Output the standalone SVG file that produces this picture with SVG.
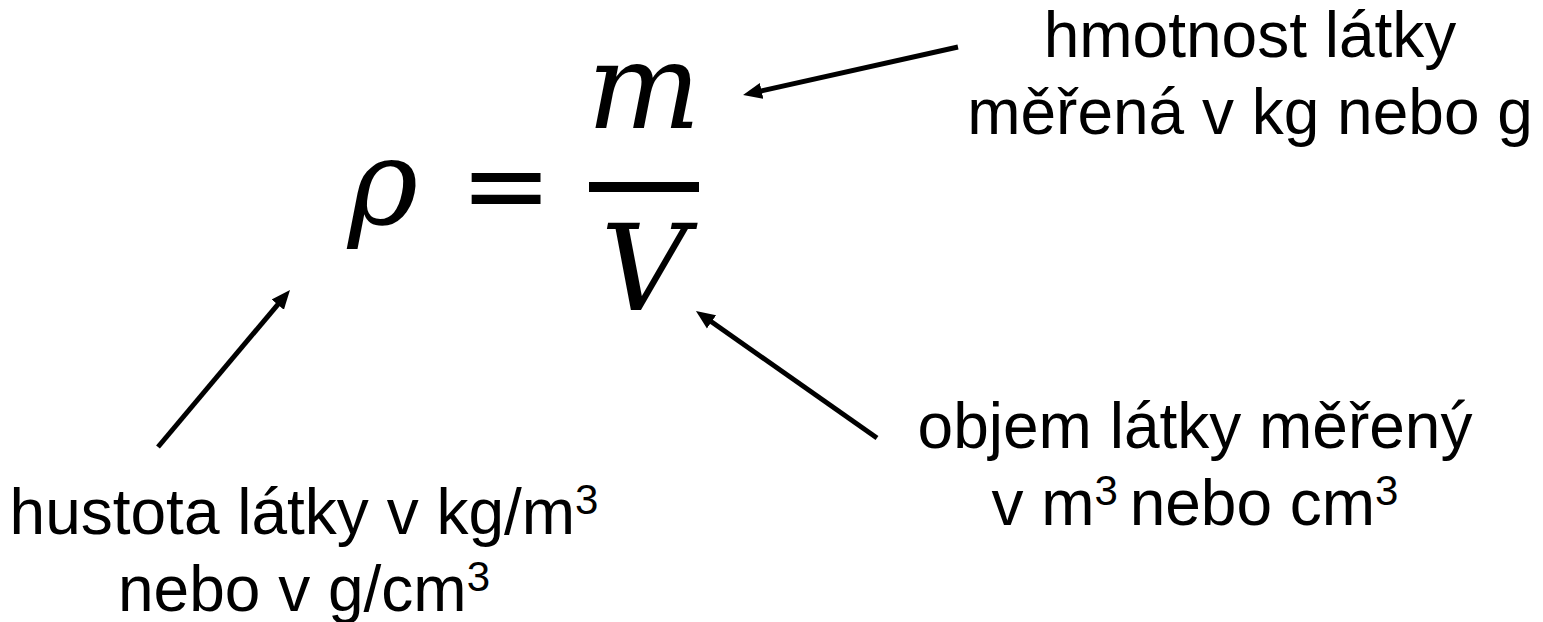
<svg xmlns="http://www.w3.org/2000/svg" width="1543" height="622" viewBox="0 0 1543 622">
<style>
.lbl{font-family:"Liberation Sans",Arial,sans-serif;font-size:64px;fill:#000;text-anchor:middle}
.math{font-family:"DejaVu Serif","Liberation Serif",serif;font-style:italic;font-size:120px;fill:#000;text-anchor:middle}
.op{font-family:"DejaVu Sans","Liberation Sans",sans-serif;font-size:110px;fill:#000;text-anchor:middle}
.conn{stroke:#000;stroke-width:5;fill:none;marker-end:url(#ah)}
</style>
<defs>
<marker id="ah" markerUnits="userSpaceOnUse" markerWidth="20" markerHeight="18" viewBox="0 -9 20 18" refX="1" refY="0" orient="auto">
<path d="M0,-8 L19,0 L0,8 z" fill="#000"/>
</marker>
</defs>
<rect width="1543" height="622" fill="#fff"/>
<g id="formula">
<text class="math" x="383" y="224">ρ</text>
<text class="op" x="506" y="223">=</text>
<text class="math" x="644" y="128">m</text>
<rect x="589" y="182" width="110" height="10" fill="#000"/>
<text class="math" x="644" y="310">V</text>
</g>
<g id="label-mass">
<text class="lbl" x="1250" y="57">hmotnost látky</text>
<text class="lbl" x="1250" y="134">měřená v kg nebo g</text>
</g>
<g id="label-volume">
<text class="lbl" x="1195" y="448">objem látky měřený</text>
<text class="lbl" x="1195" y="525">v m<tspan dy="-20" font-size="42">3 </tspan><tspan dy="20">nebo cm</tspan><tspan dy="-20" font-size="42">3</tspan></text>
</g>
<g id="label-density">
<text class="lbl" x="304" y="534">hustota látky v kg/m<tspan dy="-20" font-size="42">3</tspan></text>
<text class="lbl" x="304" y="611">nebo v g/cm<tspan dy="-20" font-size="42">3</tspan></text>
</g>
<g id="connectors">
<line class="conn" x1="958" y1="47" x2="760.6" y2="91.1"/>
<line class="conn" x1="158" y1="447" x2="278.4" y2="303.8"/>
<line class="conn" x1="877" y1="438" x2="710.7" y2="321.3"/>
</g>
</svg>
